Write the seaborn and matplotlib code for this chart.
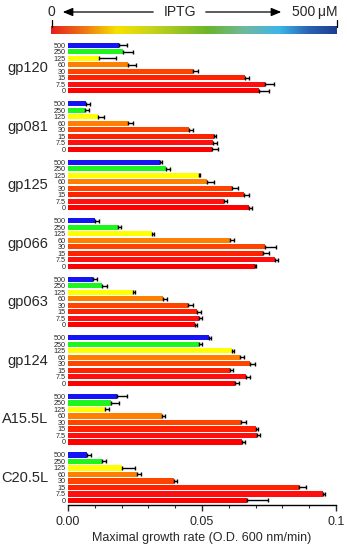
import matplotlib
matplotlib.use("Agg")
import matplotlib.pyplot as plt
from matplotlib.colors import LinearSegmentedColormap
from matplotlib.ticker import MultipleLocator
import numpy as np
import pandas as pd
import seaborn as sns

# data
groups = ["gp120", "gp081", "gp125", "gp066", "gp063", "gp124", "A15.5L", "C20.5L"]
iptg = ["500", "250", "125", "60", "30", "15", "7.5", "0"]

gp120 = [0.0190, 0.0206, 0.0117, 0.0223, 0.0468, 0.0660, 0.0736, 0.0714]
gp081 = [0.0066, 0.0063, 0.0111, 0.0225, 0.0453, 0.0544, 0.0542, 0.0536]
gp125 = [0.0345, 0.0366, 0.0488, 0.0520, 0.0612, 0.0655, 0.0583, 0.0674]
gp066 = [0.0102, 0.0185, 0.0315, 0.0603, 0.0735, 0.0729, 0.0774, 0.0697]
gp063 = [0.0092, 0.0126, 0.0244, 0.0356, 0.0447, 0.0480, 0.0489, 0.0474]
gp124 = [0.0526, 0.0490, 0.0611, 0.0640, 0.0679, 0.0603, 0.0664, 0.0624]
a155l = [0.0182, 0.0162, 0.0137, 0.0350, 0.0646, 0.0703, 0.0704, 0.0649]
c205l = [0.0072, 0.0126, 0.0200, 0.0256, 0.0396, 0.0863, 0.0953, 0.0667]

gp120_err = [0.0030, 0.0037, 0.0063, 0.0029, 0.0016, 0.0017, 0.0034, 0.0037]
gp081_err = [0.0015, 0.0014, 0.0025, 0.0019, 0.0012, 0.0009, 0.0013, 0.0024]
gp125_err = [0.0006, 0.0016, 0.0005, 0.0025, 0.0022, 0.0020, 0.0010, 0.0011]
gp066_err = [0.0012, 0.0012, 0.0005, 0.0015, 0.0042, 0.0022, 0.0011, 0.0006]
gp063_err = [0.0015, 0.0020, 0.0005, 0.0015, 0.0021, 0.0016, 0.0011, 0.0007]
gp124_err = [0.0006, 0.0010, 0.0010, 0.0018, 0.0020, 0.0011, 0.0015, 0.0013]
a155l_err = [0.0037, 0.0028, 0.0016, 0.0011, 0.0017, 0.0007, 0.0011, 0.0011]
c205l_err = [0.0015, 0.0016, 0.0050, 0.0018, 0.0009, 0.0025, 0.0006, 0.0078]

means = [gp120, gp081, gp125, gp066, gp063, gp124, a155l, c205l]
errs = [gp120_err, gp081_err, gp125_err, gp066_err, gp063_err, gp124_err, a155l_err, c205l_err]

colors = {"500": "#1414f5", "250": "#1ef51e", "125": "#ffff00", "60": "#ff8000",
          "30": "#ff4400", "15": "#ff2200", "7.5": "#ff1010", "0": "#ff0000"}

rows = []
for g, m, e in zip(groups, means, errs):
    for c, v, ev in zip(iptg, m, e):
        rows.append({"key": g + "|" + c, "group": g, "iptg": c, "rate": v, "err": ev})
df = pd.DataFrame(rows)

# category order with an empty slot between groups
order = []
for i, g in enumerate(groups):
    if i > 0:
        order.append("gap%d" % i)
    order += [g + "|" + c for c in iptg]

sns.set_style("white")
plt.rcParams["font.family"] = ["Liberation Sans", "DejaVu Sans"]

fig = plt.figure(figsize=(3.47, 5.5), dpi=100)
W, H = 347, 550
ax = fig.add_axes([68 / W, 1 - 505 / H, (336 - 68) / W, (505 - 42) / H])

sns.barplot(data=df, x="rate", y="key", hue="iptg", order=order, hue_order=iptg,
            palette=colors, saturation=1, dodge=False, errorbar=None, legend=False,
            width=0.8, linewidth=0, ax=ax)

ypos = [order.index(k) for k in df["key"]]
ax.errorbar(df["rate"], ypos, xerr=[np.zeros(len(df)), df["err"]], fmt="none",
            ecolor="black", elinewidth=1.0, capsize=1.3, capthick=1.0)

ax.set_xlim(0, 0.1)
ax.set_ylim(len(order) - 0.3, -0.5)
ax.set_xticks([0, 0.05, 0.1])
ax.set_xticklabels(["0.00", "0.05", "0.1"], fontsize=9)
ax.xaxis.set_minor_locator(MultipleLocator(0.01))
ax.tick_params(axis="x", which="major", direction="out", length=4, width=1, bottom=True, pad=4)
ax.tick_params(axis="x", which="minor", direction="out", length=2.5, width=0.8, bottom=True)
ax.set_xlabel("Maximal growth rate (O.D. 600 nm/min)", fontsize=9, labelpad=3)
ax.set_ylabel("")

ax.set_yticks(range(len(order)))
ax.set_yticklabels([k.split("|")[1] if "|" in k else "" for k in order],
                   fontsize=5.2, family=["Liberation Sans Narrow", "Liberation Sans"])
ax.tick_params(axis="y", length=0, pad=1.5)
for s in ["top", "right", "left"]:
    ax.spines[s].set_visible(False)
ax.spines["bottom"].set_linewidth(1)
ax.spines["bottom"].set_color("black")

for g in groups:
    ks = [order.index(g + "|" + c) for c in iptg]
    ax.annotate(g, xy=(0, np.mean(ks)), xycoords=("axes fraction", "data"),
                xytext=(-20, 0), textcoords="offset pixels",
                ha="right", va="center", fontsize=10.5)

# IPTG gradient bar
cmap = LinearSegmentedColormap.from_list("iptg", [
    (0.0, "#e4201e"), (0.12, "#f07a14"), (0.23, "#f6e200"), (0.35, "#c8d41a"),
    (0.55, "#6ab42d"), (0.68, "#6fb9a0"), (0.80, "#3cb6e8"), (0.9, "#2a64b4"),
    (1.0, "#1f3d92")])
cax = fig.add_axes([51 / W, 1 - 34 / H, (337 - 51) / W, 8 / H])
cax.imshow(np.linspace(0, 1, 256)[None, :], aspect="auto", cmap=cmap)
cax.axis("off")
for xp in [51.5, 336.5]:
    fig.add_artist(plt.Line2D([xp / W, xp / W], [1 - 20 / H, 1 - 27 / H],
                              color="black", lw=0.9))

ty = 1 - 12 / H
fig.text(51 / W, ty, "0", ha="center", va="center", fontsize=10)
fig.text(180 / W, ty, "IPTG", ha="center", va="center", fontsize=10)
fig.text(337 / W, ty, "500\u2009\u03bcM", ha="right", va="center", fontsize=10)
fig.add_artist(matplotlib.patches.FancyArrowPatch(
    (156 / W, ty), (60 / W, ty), transform=fig.transFigure,
    arrowstyle="-|>,head_length=6,head_width=2.5", color="black", lw=0.9))
fig.add_artist(matplotlib.patches.FancyArrowPatch(
    (203 / W, ty), (284 / W, ty), transform=fig.transFigure,
    arrowstyle="-|>,head_length=6,head_width=2.5", color="black", lw=0.9))

fig.savefig("out.png", dpi=100)
